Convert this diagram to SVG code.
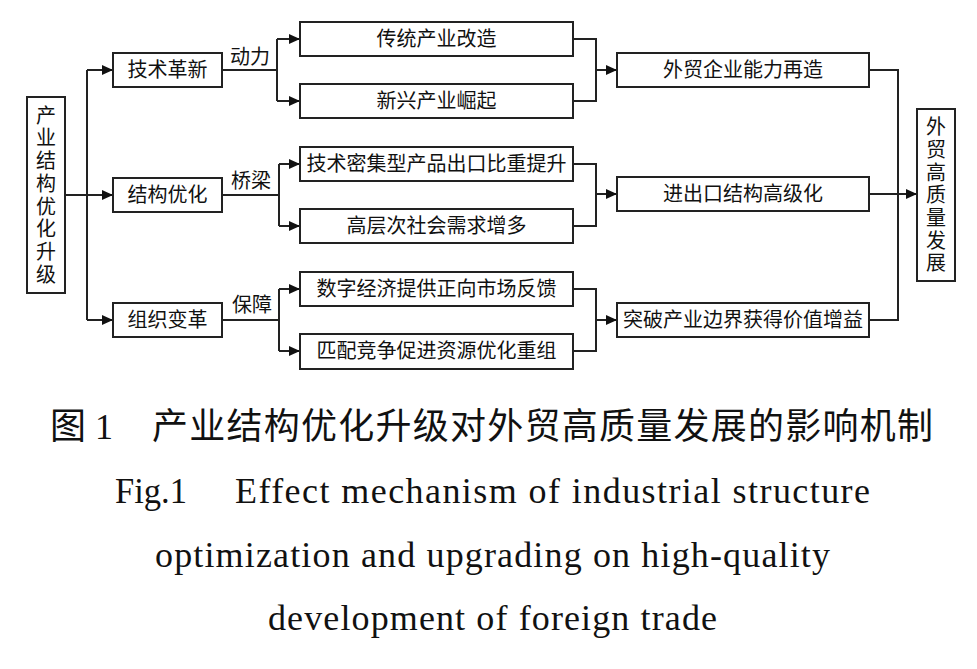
<svg xmlns="http://www.w3.org/2000/svg" width="977" height="669" viewBox="0 0 977 669">
<style>
.box{fill:#fff;stroke:#222;stroke-width:2}
.t{font-family:"Noto Sans CJK SC",sans-serif;font-size:20px;fill:#111;text-anchor:middle}
.v{font-family:"Noto Sans CJK SC",sans-serif;font-size:20px;fill:#111;text-anchor:middle;writing-mode:vertical-rl;letter-spacing:2.7px}
.lbl{font-family:"Noto Sans CJK SC",sans-serif;font-size:20px;fill:#111}
.c{fill:none;stroke:#222;stroke-width:2}
.cap{font-family:"Liberation Serif","Noto Sans CJK SC",serif;font-size:36px;fill:#111}
</style>
<defs>
<marker id="ah" markerUnits="userSpaceOnUse" markerWidth="12" markerHeight="10" refX="11" refY="5" orient="auto">
<path d="M0,0 L11,5 L0,10 z" fill="#111"/>
</marker>
</defs>
<rect width="977" height="669" fill="#fff"/>

<g id="connectors">
<path class="c" d="M65,195 H87 M87,70 V320"/>
<path class="c" d="M87,70 H113" marker-end="url(#ah)"/>
<path class="c" d="M87,195 H113" marker-end="url(#ah)"/>
<path class="c" d="M87,320 H113" marker-end="url(#ah)"/>

<path class="c" d="M222,70 H277 M277,39 V101"/>
<path class="c" d="M277,39 H300" marker-end="url(#ah)"/>
<path class="c" d="M277,101 H300" marker-end="url(#ah)"/>

<path class="c" d="M222,195 H279 M279,164 V226"/>
<path class="c" d="M279,164 H300" marker-end="url(#ah)"/>
<path class="c" d="M279,226 H300" marker-end="url(#ah)"/>

<path class="c" d="M222,320 H279 M279,289 V351"/>
<path class="c" d="M279,289 H300" marker-end="url(#ah)"/>
<path class="c" d="M279,351 H300" marker-end="url(#ah)"/>

<path class="c" d="M573,39 H596 V101 H573"/>
<path class="c" d="M596,70 H617" marker-end="url(#ah)"/>
<path class="c" d="M573,164 H596 V226 H573"/>
<path class="c" d="M596,194 H617" marker-end="url(#ah)"/>
<path class="c" d="M573,289 H596 V351 H573"/>
<path class="c" d="M596,320 H617" marker-end="url(#ah)"/>

<path class="c" d="M869,70 H898 V320 H869"/>
<path class="c" d="M869,194 H917" marker-end="url(#ah)"/>

<text class="lbl" x="230" y="64">动力</text>
<text class="lbl" x="231" y="188">桥梁</text>
<text class="lbl" x="232" y="312">保障</text>
</g>

<g id="n-source">
<rect class="box" x="27" y="97" width="38" height="196"/>
<text class="v" x="46" y="196">产业结构优化升级</text>
</g>

<g id="n-jishu"><rect class="box" x="113" y="53" width="109" height="34"/><text class="t" x="167.5" y="77">技术革新</text></g>
<g id="n-jiegou"><rect class="box" x="113" y="178" width="109" height="34"/><text class="t" x="167.5" y="202">结构优化</text></g>
<g id="n-zuzhi"><rect class="box" x="113" y="303" width="109" height="34"/><text class="t" x="167.5" y="327">组织变革</text></g>

<g id="n-m1"><rect class="box" x="300" y="22" width="273" height="34"/><text class="t" x="436.5" y="46">传统产业改造</text></g>
<g id="n-m2"><rect class="box" x="300" y="84" width="273" height="34"/><text class="t" x="436.5" y="108">新兴产业崛起</text></g>
<g id="n-m3"><rect class="box" x="300" y="147" width="273" height="34"/><text class="t" x="436.5" y="171">技术密集型产品出口比重提升</text></g>
<g id="n-m4"><rect class="box" x="300" y="209" width="273" height="34"/><text class="t" x="436.5" y="233">高层次社会需求增多</text></g>
<g id="n-m5"><rect class="box" x="300" y="272" width="273" height="34"/><text class="t" x="436.5" y="296">数字经济提供正向市场反馈</text></g>
<g id="n-m6"><rect class="box" x="300" y="334" width="273" height="35"/><text class="t" x="436.5" y="358">匹配竞争促进资源优化重组</text></g>

<g id="n-r1"><rect class="box" x="617" y="53" width="252" height="34"/><text class="t" x="743" y="77">外贸企业能力再造</text></g>
<g id="n-r2"><rect class="box" x="617" y="177" width="252" height="34"/><text class="t" x="743" y="201">进出口结构高级化</text></g>
<g id="n-r3"><rect class="box" x="617" y="303" width="252" height="34"/><text class="t" x="743" y="327">突破产业边界获得价值增益</text></g>

<g id="n-target">
<rect class="box" x="917" y="109" width="38" height="172"/>
<text class="v" x="936" y="196">外贸高质量发展</text>
</g>

<g id="caption">
<text class="cap" x="50" y="439">图 1</text>
<text class="cap" x="152" y="439" textLength="781" lengthAdjust="spacing">产业结构优化升级对外贸高质量发展的影响机制</text>
<text class="cap" x="115" y="503" textLength="72" lengthAdjust="spacingAndGlyphs">Fig.1</text>
<text class="cap" x="235" y="503" textLength="635" lengthAdjust="spacing">Effect mechanism of industrial structure</text>
<text class="cap" x="155" y="567" textLength="675" lengthAdjust="spacing">optimization and upgrading on high-quality</text>
<text class="cap" x="268" y="630" textLength="449" lengthAdjust="spacing">development of foreign trade</text>
</g>
</svg>
